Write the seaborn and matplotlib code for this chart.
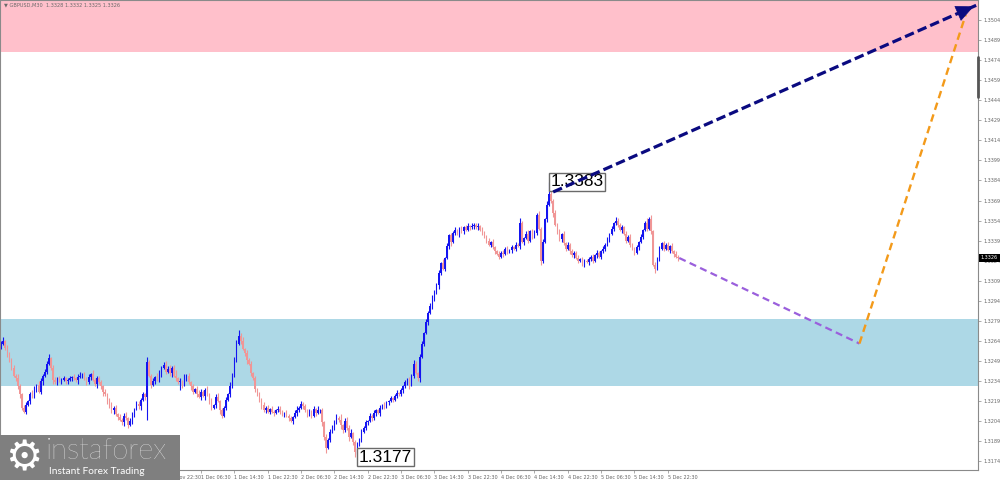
import numpy as np
import matplotlib
matplotlib.use("Agg")
import matplotlib.pyplot as plt
import matplotlib.transforms as mtransforms
from matplotlib.patches import Rectangle
from matplotlib.lines import Line2D
import seaborn as sns

# ---------------- data ----------------
symbol = "GBPUSD,M30"
header_ohlc = ["1.3328", "1.3332", "1.3325", "1.3326"]

first_open_pips = 260          # price = 1.3 + pips/10000
close_pips = [
    262, 264, 259, 255, 249, 244, 238, 236, 230, 224, 214, 211, 216, 219, 224, 222,
    228, 231, 226, 234, 238, 241, 247, 251, 244, 235, 233, 236, 234, 235, 236, 234,
    235, 236, 237, 236, 235, 237, 238, 239, 236, 233, 237, 239, 235, 232, 236, 233,
    230, 226, 224, 219, 215, 212, 214, 209, 207, 205, 203, 208, 206, 201, 204, 209,
    213, 217, 215, 220, 224, 222, 248, 238, 231, 234, 237, 235, 240, 244, 246, 241,
    243, 240, 244, 238, 236, 233, 234, 231, 236, 238, 233, 230, 226, 228, 224, 222,
    226, 223, 227, 224, 219, 214, 216, 222, 219, 212, 208, 214, 220, 224, 230, 238,
    250, 262, 268, 264, 258, 255, 250, 247, 240, 236, 228, 224, 220, 216, 212, 214,
    211, 213, 211, 210, 212, 213, 211, 209, 210, 208, 206, 204, 207, 210, 212, 214,
    217, 215, 212, 209, 211, 208, 213, 210, 212, 212, 203, 192, 184, 190, 196, 199,
    203, 206, 205, 201, 197, 204, 199, 192, 195, 188, 181, 186, 190, 196, 199, 203,
    204, 208, 206, 210, 212, 210, 214, 216, 215, 218, 219, 221, 220, 223, 225, 224,
    227, 230, 233, 235, 231, 238, 247, 240, 236, 252, 262, 270, 278, 285, 290, 296,
    300, 306, 315, 322, 318, 326, 335, 343, 338, 345, 347, 344, 348, 346, 349, 347,
    350, 349, 350, 351, 349, 350, 347, 345, 342, 339, 336, 338, 334, 331, 329, 327,
    330, 329, 333, 331, 332, 334, 333, 336, 335, 352, 338, 341, 344, 339, 346, 342,
    345, 358, 348, 324, 338, 355, 366, 374, 369, 360, 351, 346, 340, 344, 337, 333,
    336, 331, 328, 330, 326, 324, 325, 322, 324, 323, 325, 327, 324, 328, 330, 327,
    331, 333, 336, 340, 344, 348, 352, 354, 351, 347, 349, 344, 339, 342, 336, 333,
    330, 334, 338, 342, 347, 352, 348, 355, 346, 321, 318, 326, 333, 337, 333, 336,
    332, 335, 331, 329, 327, 326,
]
upper_wick_pips = [
    2, 3, 1, 2, 1, 2, 2, 1, 3, 2, 1, 2, 2, 1, 2, 3,
    2, 1, 3, 2, 1, 2, 2, 3, 1, 2, 2, 1, 2, 1, 2, 1,
    1, 2, 1, 2, 1, 2, 3, 1, 2, 1, 2, 1, 3, 1, 2, 2,
    2, 1, 2, 1, 2, 3, 1, 2, 1, 2, 1, 2, 3, 1, 2, 2,
    1, 2, 2, 1, 2, 1, 4, 2, 1, 2, 1, 3, 2, 1, 2, 3,
    2, 3, 1, 2, 4, 1, 2, 1, 3, 1, 2, 1, 2, 1, 2, 3,
    2, 1, 2, 3, 1, 2, 1, 2, 3, 1, 2, 1, 2, 1, 3, 2,
    2, 3, 4, 2, 3, 1, 2, 1, 2, 1, 2, 1, 2, 1, 2, 1,
    2, 1, 2, 1, 1, 2, 2, 1, 1, 2, 1, 2, 1, 2, 3, 1,
    2, 1, 2, 1, 2, 1, 2, 1, 3, 1, 2, 1, 2, 1, 2, 2,
    2, 3, 2, 4, 1, 2, 3, 2, 3, 1, 2, 2, 1, 2, 1, 2,
    1, 2, 1, 2, 1, 1, 2, 1, 2, 1, 1, 2, 1, 1, 2, 1,
    2, 1, 2, 1, 2, 1, 3, 2, 1, 2, 2, 1, 2, 1, 2, 2,
    2, 1, 2, 1, 3, 1, 2, 1, 2, 1, 2, 1, 1, 2, 1, 2,
    2, 1, 2, 1, 1, 2, 1, 2, 1, 1, 2, 1, 2, 1, 1, 2,
    1, 2, 1, 2, 1, 2, 1, 2, 1, 4, 2, 1, 2, 3, 1, 2,
    2, 2, 3, 1, 2, 1, 3, 9, 2, 1, 2, 1, 2, 1, 2, 1,
    2, 1, 2, 1, 1, 2, 1, 2, 1, 1, 2, 1, 2, 1, 2, 1,
    1, 2, 1, 2, 1, 2, 1, 3, 2, 1, 2, 1, 2, 1, 2, 1,
    1, 2, 1, 2, 1, 2, 4, 2, 3, 1, 2, 1, 2, 1, 2, 1,
    2, 1, 2, 1, 2, 1,
]
lower_wick_pips = [
    2, 1, 2, 3, 1, 2, 1, 2, 2, 3, 2, 1, 2, 1, 2, 1,
    1, 2, 1, 2, 3, 1, 2, 1, 2, 3, 1, 2, 1, 2, 1, 2,
    2, 1, 2, 1, 2, 3, 1, 2, 1, 2, 1, 2, 1, 2, 3, 1,
    2, 3, 1, 2, 1, 2, 3, 1, 2, 1, 2, 3, 1, 2, 1, 2,
    2, 1, 2, 3, 1, 2, 17, 1, 2, 1, 2, 1, 2, 3, 1, 2,
    1, 2, 3, 1, 2, 1, 6, 2, 1, 2, 1, 3, 2, 1, 2, 1,
    2, 1, 3, 1, 2, 2, 1, 2, 1, 3, 2, 1, 2, 1, 2, 1,
    1, 2, 1, 2, 1, 2, 3, 1, 2, 1, 2, 1, 2, 3, 1, 2,
    1, 2, 1, 2, 1, 1, 2, 1, 2, 1, 2, 1, 2, 1, 2, 1,
    1, 2, 1, 2, 1, 2, 1, 2, 1, 2, 3, 2, 4, 1, 2, 1,
    2, 1, 2, 3, 2, 1, 2, 3, 1, 2, 4, 2, 1, 2, 1, 2,
    2, 1, 2, 1, 2, 1, 2, 1, 2, 1, 2, 1, 2, 1, 2, 1,
    1, 2, 1, 2, 3, 1, 2, 1, 2, 3, 1, 2, 1, 2, 1, 2,
    2, 1, 3, 2, 1, 2, 1, 2, 3, 1, 2, 1, 2, 1, 2, 1,
    1, 2, 1, 2, 1, 2, 1, 2, 1, 2, 1, 2, 1, 2, 1, 2,
    1, 2, 1, 2, 1, 2, 1, 2, 1, 2, 1, 2, 1, 2, 1, 2,
    1, 2, 1, 3, 2, 1, 2, 1, 2, 3, 1, 2, 1, 2, 1, 2,
    1, 2, 1, 2, 1, 2, 1, 2, 3, 1, 2, 1, 2, 1, 2, 1,
    2, 1, 2, 1, 2, 1, 2, 1, 2, 1, 2, 1, 2, 1, 2, 1,
    2, 1, 2, 1, 2, 1, 2, 1, 2, 1, 3, 1, 2, 1, 2, 1,
    1, 2, 1, 2, 1, 2,
]

time_labels = ["27 Nov 2025", "27 Nov 14:30", "27 Nov 22:30", "28 Nov 06:30",
               "28 Nov 14:30", "28 Nov 22:30", "1 Dec 06:30", "1 Dec 14:30",
               "1 Dec 22:30", "2 Dec 06:30", "2 Dec 14:30", "2 Dec 22:30",
               "3 Dec 06:30", "3 Dec 14:30", "3 Dec 22:30", "4 Dec 06:30",
               "4 Dec 14:30", "4 Dec 22:30", "5 Dec 06:30", "5 Dec 14:30",
               "5 Dec 22:30"]
bars_per_label = 16

price_labels = ["1.3174", "1.3189", "1.3204", "1.3219", "1.3234", "1.3249",
                "1.3264", "1.3279", "1.3294", "1.3309", "1.3324", "1.3339",
                "1.3354", "1.3369", "1.3384", "1.3399", "1.3414", "1.3429",
                "1.3444", "1.3459", "1.3474", "1.3489", "1.3504"]

resistance_zone = (1.3480, 1.3530)
support_zone = (1.3230, 1.3280)

marked_high = ("1.3383", 263, 1.3383)
marked_low = ("1.3177", 171, 1.3177)
last_price = 1.3326

# forecast waves: (bar index, price)
wave_big_x = [265, 468]
wave_big_y = [1.33754, 1.3515]
wave_down_x = [325.5, 412]
wave_down_y = [1.3326, 1.3262]
wave_up_x = [412, 463]
wave_up_y = [1.3262, 1.3508]

# ---------------- styling ----------------
sns.set_theme(style="white")
plt.rcParams["font.family"] = ["DejaVu Sans"]

BULL = "#1414f0"
BEAR = "#f09696"
NAVY = "#0a0a80"
PURPLE = "#9a5fdc"
ORANGE = "#f39a1a"
GRID_TXT = "#666666"

fig = plt.figure(figsize=(10, 4.8), dpi=100)
fig.patch.set_facecolor("white")
ax = fig.add_axes([0.0, 10 / 480, 0.978, 470 / 480])
ax.set_facecolor("white")

n = len(close_pips)
idx = np.arange(n)
c = 1.3 + np.array(close_pips) / 1e4
o = np.r_[1.3 + first_open_pips / 1e4, c[:-1]]
h = np.maximum(o, c) + np.array(upper_wick_pips) / 1e4
l = np.minimum(o, c) - np.array(lower_wick_pips) / 1e4
bull = c >= o

# zones
ax.axhspan(*resistance_zone, color="#ffc0cb", lw=0, zorder=0)
ax.axhspan(*support_zone, color="#add8e6", lw=0, zorder=0)

# candles
for mask, col in ((bull, BULL), (~bull, BEAR)):
    ax.vlines(idx[mask], l[mask], h[mask], color=col, lw=0.8, zorder=2)
    body = np.maximum(np.abs(c - o), 0.00006)
    ax.bar(idx[mask], body[mask], bottom=np.minimum(o, c)[mask], width=0.75,
           color=col, lw=0, zorder=2)

# high / low labels (below the forecast line, as in MT4)
for txt, bx, py in (marked_high, marked_low):
    ax.text(bx + 0.6, py, txt, ha="left", va="center", fontsize=12.5,
            family="Liberation Sans", color="black", zorder=3,
            bbox=dict(boxstyle="square,pad=0.1", fc="white", ec="#6a6a6a", lw=1.0))

# forecast lines (seaborn)
sns.lineplot(x=wave_down_x, y=wave_down_y, ax=ax, color=PURPLE, lw=1.6,
             linestyle=(0, (3.2, 2.0)), zorder=4)
sns.lineplot(x=wave_up_x, y=wave_up_y, ax=ax, color=ORANGE, lw=1.7,
             linestyle=(0, (3.2, 2.0)), zorder=4)
sns.lineplot(x=wave_big_x, y=wave_big_y, ax=ax, color=NAVY, lw=2.3,
             linestyle=(0, (3.0, 1.3)), zorder=5)
slope = (wave_big_y[1] - wave_big_y[0]) / (wave_big_x[1] - wave_big_x[0])
ax.annotate("", xy=(wave_big_x[1], wave_big_y[1]),
            xytext=(wave_big_x[1] - 8, wave_big_y[1] - 8 * slope),
            arrowprops=dict(arrowstyle="-|>,head_length=0.9,head_width=0.42",
                            color=NAVY, lw=0.5, mutation_scale=13),
            annotation_clip=False, zorder=6)

# axes limits and ticks
ax.set_xlim(-0.5, 468.9)
ax.set_ylim(1.31674, 1.3519)
ax.set_xticks(np.arange(len(time_labels)) * bars_per_label)
ax.set_xticklabels(time_labels, fontsize=3.5, color=GRID_TXT, ha="left")
ax.yaxis.tick_right()
ax.set_yticks([float(p) for p in price_labels])
ax.set_yticklabels(price_labels, fontsize=3.5, color=GRID_TXT)
ax.tick_params(axis="x", length=2.0, width=0.5, color="#888888", pad=1.5, bottom=True)
ax.tick_params(axis="y", length=2.0, width=0.5, color="#888888", pad=1.8, right=True)
for sp in ax.spines.values():
    sp.set_color("#8a8a8a")
    sp.set_linewidth(0.8)
ax.grid(False)
ax.set_xlabel("")
ax.set_ylabel("")
if ax.get_legend() is not None:
    ax.get_legend().remove()

# current price tag
trans = mtransforms.blended_transform_factory(ax.transAxes, ax.transData)
ax.text(1.003, last_price, f"{last_price:.4f}", transform=trans, ha="left", va="center",
        fontsize=3.5, color="white", clip_on=False, zorder=8,
        bbox=dict(boxstyle="square,pad=0.3", fc="black", ec="black", lw=0))

# scroll marker on the price scale
fig.add_artist(Line2D([0.978, 0.978], [1 - 57 / 480, 1 - 97 / 480],
                      transform=fig.transFigure, color="#555555", lw=2))

# header
fig.text(0.004, 1 - 5 / 480, "\u25bc " + symbol + "  " + " ".join(header_ohlc),
         fontsize=3.6, color="#6a6a6a", va="center", ha="left")

# logo
fig.add_artist(Rectangle((0.0, 0.0), 0.18, 45 / 480, transform=fig.transFigure,
                         fc="#7f7f7f", ec="none", zorder=5))
fig.text(0.024, 1 - 458 / 480, "\u2699", fontsize=30, color="white",
         ha="center", va="center", zorder=6)
fig.text(0.046, 1 - 451 / 480, "instaforex", fontsize=21, color="white",
         family="Lato", fontweight="light", ha="left", va="center", zorder=6)
fig.text(0.049, 1 - 471 / 480, "Instant Forex Trading", fontsize=7.3,
         color="white", family="Lato", ha="left", va="center", zorder=6)

fig.savefig("out.png", dpi=100)
